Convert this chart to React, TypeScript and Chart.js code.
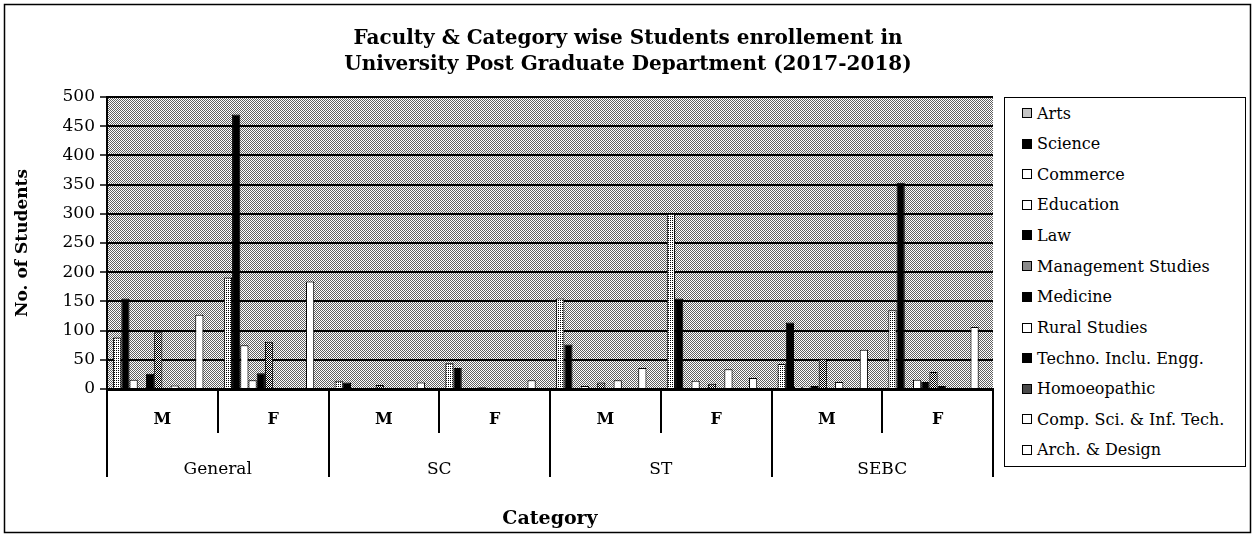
import React, { useEffect, useRef } from 'react';
import { Chart, registerables } from 'chart.js';

Chart.register(...registerables);

const subLabels = ['M', 'F', 'M', 'F', 'M', 'F', 'M', 'F'];
const groupLabels = ['General', 'SC', 'ST', 'SEBC'];
const titleLines = [
  'Faculty & Category wise Students enrollement in',
  'University Post Graduate Department (2017-2018)',
];
const yMin = 0;
const yMax = 500;
const yStep = 50;

// order of each series: General M, General F, SC M, SC F, ST M, ST F, SEBC M, SEBC F
const arts = [88, 191, 14, 44, 155, 300, 43, 135];
const science = [155, 470, 11, 36, 76, 155, 114, 353];
const commerce = [16, 75, 0, 0, 0, 0, 4, 0];
const education = [0, 15, 0, 0, 5, 14, 4, 16];
const law = [26, 27, 0, 3, 0, 0, 5, 12];
const management = [97, 81, 7, 0, 11, 9, 52, 29];
const medicine = [0, 0, 0, 2, 0, 0, 0, 5];
const rural = [6, 0, 0, 0, 15, 34, 12, 0];
const techno = [0, 0, 0, 0, 0, 0, 0, 0];
const homoeo = [0, 0, 0, 0, 0, 0, 0, 0];
const compSci = [127, 184, 11, 15, 36, 19, 67, 106];
const arch = [0, 0, 0, 0, 0, 0, 0, 0];

const seriesNames = [
  'Arts', 'Science', 'Commerce', 'Education', 'Law', 'Management Studies', 'Medicine',
  'Rural Studies', 'Techno. Inclu. Engg.', 'Homoeopathic', 'Comp. Sci. & Inf. Tech.', 'Arch. & Design',
];
const seriesValues = [arts, science, commerce, education, law, management, medicine, rural, techno, homoeo, compSci, arch];
// fill kind per series
const seriesFill = ['light', 'black', 'white', 'white', 'black', 'mid', 'black', 'white', 'black', 'dark', 'white', 'white'];
const swatchColor: Record<string, string> = { light: '#c4c4c4', mid: '#8a8a8a', dark: '#4a4a4a', black: '#000', white: '#fff' };

function makePattern(dark: string, light: string, cells: number[][], size: number) {
  const c = document.createElement('canvas');
  c.width = size;
  c.height = size;
  const g = c.getContext('2d')!;
  g.fillStyle = light;
  g.fillRect(0, 0, size, size);
  g.fillStyle = dark;
  cells.forEach(([x, y]) => g.fillRect(x, y, 1, 1));
  return g.createPattern(c, 'repeat');
}

const SERIF = '"DejaVu Serif", serif';

export default function App() {
  const ref = useRef<HTMLCanvasElement>(null);

  useEffect(() => {
    const canvas = ref.current!;
    const fills: Record<string, any> = {
      light: makePattern('#000', '#fff', [[0, 0]], 2),
      mid: makePattern('#000', '#fff', [[0, 0], [1, 1]], 2),
      dark: makePattern('#000', '#fff', [[0, 0], [1, 1], [1, 0]], 2),
      black: '#000',
      white: '#fff',
    };
    const plotFill = makePattern('#606060', '#ffffff', [[0, 0], [1, 1]], 2);

    const framePlugin = {
      id: 'frame',
      beforeDraw(chart: any) {
        const { ctx, chartArea: a } = chart;
        ctx.save();
        ctx.fillStyle = '#fff';
        ctx.fillRect(0, 0, chart.width, chart.height);
        ctx.fillStyle = plotFill;
        ctx.fillRect(a.left, a.top, a.right - a.left, a.bottom - a.top);
        ctx.restore();
      },
      afterDraw(chart: any) {
        const { ctx, chartArea: a } = chart;
        const xs = chart.scales.x;
        const x2 = chart.scales.x2;
        ctx.save();
        ctx.strokeStyle = '#000';
        ctx.lineWidth = 2;
        const n = subLabels.length;
        for (let i = 0; i <= n; i++) {
          let px: number;
          if (i === 0) px = a.left;
          else if (i === n) px = a.right;
          else px = (xs.getPixelForValue(i - 1) + xs.getPixelForValue(i)) / 2;
          const bottom = i % 2 === 0 ? x2.top + 40 : xs.bottom - 4;
          ctx.beginPath();
          ctx.moveTo(Math.round(px), a.bottom);
          ctx.lineTo(Math.round(px), bottom);
          ctx.stroke();
        }
        ctx.lineWidth = 1.5;
        ctx.strokeRect(4.5, 4.5, 1246, 528);
        ctx.restore();
      },
    };

    const chart = new Chart(canvas, {
      type: 'bar',
      data: {
        labels: subLabels,
        datasets: seriesNames.map((name, i) => ({
          label: name,
          data: seriesValues[i],
          xAxisID: 'x',
          yAxisID: 'y',
          backgroundColor: fills[seriesFill[i]],
          borderColor: '#000',
          borderWidth: 1,
          categoryPercentage: 0.89,
          barPercentage: 1.0,
        })),
      },
      options: {
        responsive: false,
        animation: false,
        devicePixelRatio: 1,
        layout: { padding: { left: 8, right: 8, top: 10, bottom: 5 } },
        plugins: {
          legend: { display: false },
          tooltip: { enabled: false },
          title: {
            display: true,
            text: titleLines,
            color: '#000',
            font: { family: SERIF, size: 20, weight: 'bold', lineHeight: 1.3 },
            padding: { top: 16, bottom: 19 },
          },
        },
        scales: {
          x: {
            type: 'category',
            labels: subLabels,
            position: 'bottom',
            weight: 0,
            offset: true,
            grid: { display: false, offset: true },
            border: { display: true, color: '#000', width: 3 },
            ticks: {
              color: '#000',
              font: { family: SERIF, size: 16, weight: 'bold' },
              padding: 13,
              maxRotation: 0,
              autoSkip: false,
            },
            afterFit: (s: any) => { s.height = 48; },
          },
          x2: {
            type: 'category',
            labels: groupLabels,
            position: 'bottom',
            weight: 1,
            offset: true,
            grid: { display: false },
            border: { display: false },
            ticks: {
              color: '#000',
              font: { family: SERIF, size: 17 },
              padding: 14,
              maxRotation: 0,
              autoSkip: false,
            },
            title: {
              display: true,
              text: 'Category',
              color: '#000',
              font: { family: SERIF, size: 19, weight: 'bold' },
              padding: { top: 0, bottom: 0 },
            },
            afterFit: (s: any) => { s.height = 93; },
          },
          y: {
            type: 'linear',
            position: 'left',
            min: yMin,
            max: yMax,
            ticks: {
              stepSize: yStep,
              color: '#000',
              font: { family: SERIF, size: 17 },
              padding: 5,
            },
            grid: { color: '#000', lineWidth: 2, tickLength: 7, tickColor: '#000', tickWidth: 1.5 },
            border: { display: true, color: '#000', width: 2 },
            title: {
              display: true,
              text: 'No. of Students',
              color: '#000',
              font: { family: SERIF, size: 17, weight: 'bold' },
              padding: { top: 4, bottom: 0 },
            },
            afterFit: (s: any) => { s.width = 99; },
          },
          yR: {
            type: 'linear',
            position: 'right',
            display: true,
            grid: { display: false },
            border: { display: false },
            ticks: { display: false },
            afterFit: (s: any) => { s.width = 255; },
          },
        },
      },
      plugins: [framePlugin],
    } as any);
    return () => chart.destroy();
  }, []);

  const itemCenters = [112, 142.5, 173, 203.5, 234, 265, 295.5, 326.5, 357, 387.5, 418, 448.5];

  return (
    <div style={{ position: 'absolute', left: 0, top: 0, width: 1256, height: 535 }}>
      <canvas ref={ref} width={1256} height={535} style={{ position: 'absolute', left: 0, top: 0, width: 1256, height: 535 }} />
      <div
        style={{
          position: 'absolute', left: 1004, top: 97, width: 242, height: 370,
          border: '1.5px solid #000', boxSizing: 'border-box', background: '#fff',
        }}
      >
        {seriesNames.map((name, i) => (
          <div
            key={name}
            style={{
              position: 'absolute', left: 17, top: itemCenters[i] - 97 - 10, height: 20,
              display: 'flex', alignItems: 'center', whiteSpace: 'nowrap',
              fontFamily: SERIF, fontSize: 16, color: '#000',
            }}
          >
            <span
              style={{
                display: 'inline-block', width: 10, height: 10, boxSizing: 'border-box',
                border: '1px solid #000', background: swatchColor[seriesFill[i]], marginRight: 5,
              }}
            />
            <span>{name}</span>
          </div>
        ))}
      </div>
    </div>
  );
}
